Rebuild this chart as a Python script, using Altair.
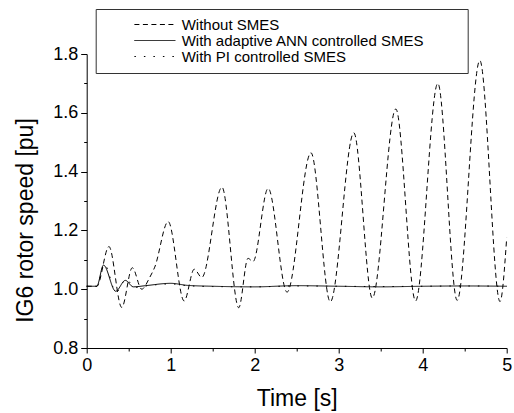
import altair as alt
import pandas as pd

# Without SMES (dashed)
t_without = [0.0, 0.12, 0.265, 0.417, 0.543, 0.655, 0.75, 0.81, 0.97, 1.16, 1.28, 1.37,
             1.61, 1.81, 1.92, 1.98, 2.16, 2.385, 2.67, 2.9, 3.18, 3.40, 3.68, 3.915,
             4.18, 4.41, 4.68, 4.92, 5.0]
v_without = [1.01, 1.01, 1.145, 0.938, 1.073, 1.0, 1.04, 1.075, 1.23, 0.96, 1.068, 1.04,
             1.347, 0.937, 1.105, 1.094, 1.343, 0.99, 1.464, 0.957, 1.532, 0.97, 1.613, 0.96,
             1.70, 0.962, 1.778, 0.958, 1.175]

# With adaptive ANN controlled SMES (solid)
t_ann = [0.0, 0.12, 0.2, 0.345, 0.46, 0.555, 0.7, 1.0, 1.2, 1.5, 2.0, 2.5, 3.0, 3.5, 4.0, 4.5, 5.0]
v_ann = [1.01, 1.01, 1.082, 0.993, 1.03, 1.008, 1.012, 1.02, 1.013, 1.01, 1.008, 1.012,
         1.01, 1.008, 1.01, 1.011, 1.01]

# With PI controlled SMES (dotted)
t_pi = [0.0, 0.12, 0.21, 0.35, 0.47, 0.57, 0.7, 1.0, 1.2, 1.5, 2.0, 2.5, 3.0, 3.5, 4.0, 4.5, 5.0]
v_pi = [1.01, 1.01, 1.085, 0.99, 1.034, 1.006, 1.011, 1.018, 1.012, 1.009, 1.008, 1.011,
        1.01, 1.009, 1.01, 1.011, 1.01]

series_names = ["Without SMES", "With adaptive ANN controlled SMES", "With PI controlled SMES"]
x_ticks = [0, 0.5, 1, 1.5, 2, 2.5, 3, 3.5, 4, 4.5, 5]
y_ticks = [0.8, 0.9, 1.0, 1.1, 1.2, 1.3, 1.4, 1.5, 1.6, 1.7, 1.8]

rows = []
for name, ts, vs in zip(series_names, [t_without, t_ann, t_pi], [v_without, v_ann, v_pi]):
    for i, (t, v) in enumerate(zip(ts, vs)):
        rows.append({"series": name, "t": t, "v": v, "order": i})
df = pd.DataFrame(rows)

FONT = "Liberation Sans"

chart = alt.Chart(df).mark_line(
    interpolate="monotone", strokeWidth=1, color="black"
).encode(
    x=alt.X("t:Q", scale=alt.Scale(domain=[0, 5], nice=False),
            axis=alt.Axis(values=x_ticks, title="Time [s]", labelFlush=False,
                          labelExpr="datum.value % 1 === 0 ? format(datum.value, 'd') : ''",
                          tickSize={"condition": {"test": "datum.value % 1 === 0", "value": 5}, "value": 3},
                          labelPadding=3, titleX=210, titleY=57, titleBaseline="alphabetic",
                          titleAnchor="middle", titleAlign="center")),
    y=alt.Y("v:Q", scale=alt.Scale(domain=[0.8, 1.8], nice=False, zero=False),
            axis=alt.Axis(values=y_ticks, title="IG6 rotor speed [pu]", labelFlush=False,
                          labelExpr="round(datum.value*10) % 2 === 0 ? format(datum.value, '.1f') : ''",
                          tickSize={"condition": {"test": "round(datum.value*10) % 2 === 0", "value": 6}, "value": 3},
                          labelPadding=3, titleX=-54, titleY=166, titleBaseline="alphabetic",
                          titleAngle=-90, titleAlign="center")),
    strokeDash=alt.StrokeDash(
        "series:N",
        scale=alt.Scale(domain=series_names, range=[[5, 3.5], [1, 0], [1.5, 8]]),
        legend=alt.Legend(title=" ", titleOrient="right", titlePadding=35,
                          orient="none", legendX=9, legendY=-45,
                          strokeColor="#333333", padding=8,
                          symbolType="M-4,0H4", symbolSize=105, symbolStrokeWidth=1,
                          symbolStrokeColor="black", symbolOffset=43.7, labelOffset=19.3,
                          labelFontSize=15, labelFont=FONT, labelColor="black",
                          rowPadding=0, labelLimit=400),
    ),
    order="order:Q",
).properties(
    width=420, height=294,
    autosize=alt.AutoSizeParams(type="none"),
    padding={"left": 86.7, "top": 54, "right": 7.3, "bottom": 65},
    background="white",
).configure_view(stroke=None).configure_axis(
    grid=False, domainColor="black", tickColor="black", labelColor="black",
    titleColor="black", labelFont=FONT, titleFont=FONT, labelFontSize=18,
    titleFontSize=23, titleFontWeight="normal", domainWidth=1, tickWidth=1,
)

chart.save("out.html", embed_options={"renderer": "svg", "actions": False})
